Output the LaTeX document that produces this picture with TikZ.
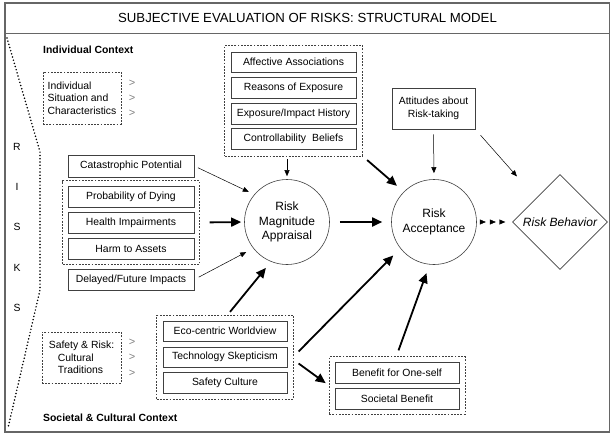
\documentclass[tikz,border=0pt]{standalone}
\usepackage{fontspec}
\setmainfont{Liberation Sans}
\usetikzlibrary{arrows.meta,shapes.geometric,fit,calc,decorations.markings}
\begin{document}
\begin{tikzpicture}[x=1pt,y=-1pt,
  every node/.style={font=\fontsize{10.4}{12.5}\selectfont, inner sep=0pt},
  bx/.style={draw=black!75, line width=0.6pt, minimum width=126pt, minimum height=21pt, inner sep=0pt},
  grp/.style={draw=black!75, line width=0.6pt, dash pattern=on 1.8pt off 1.4pt, inner sep=5.5pt},
  circ/.style={circle, draw=black!75, line width=0.6pt, minimum size=85pt, font=\fontsize{12}{14.5}\selectfont, align=center},
  bigarrow/.style={line width=1.8pt, -{Triangle[length=10pt,width=9pt]}},
  smallarrow/.style={line width=0.5pt, -{Triangle[length=6pt,width=5pt]}},
  gt/.style={text=black!50, font=\fontsize{11}{12}\selectfont},
  letter/.style={font=\fontsize{10.4}{12}\selectfont}
]
\useasboundingbox (0,0) rectangle (615,437);
% frame and title
\draw[black!60, line width=1.2pt] (5,3) rectangle (609.5,432);
\node[font=\fontsize{13.2}{15}\selectfont] (title) at (307.5,18) {SUBJECTIVE EVALUATION OF RISKS: STRUCTURAL MODEL};
\coordinate (tl) at (5,33);
\coordinate (tr) at (609.5,33);
\draw[black!60, line width=0.8pt] (tl) -- (tr);
% dotted risk boundary
\draw[line width=1.7pt, line cap=round, dash pattern=on 0pt off 3.3pt] (7,38) -- (40,152) -- (40,290) -- (8,428);
\node[letter] (lR) at (17,147) {R};
\node[letter] (lI) at (17,187) {I};
\node[letter] (lS1) at (17,227) {S};
\node[letter] (lK) at (17,268) {K};
\node[letter] (lS2) at (17,308) {S};
% context labels
\node[anchor=west, font=\bfseries\fontsize{10.4}{12}\selectfont] (ic) at (43,50) {Individual Context};
\node[anchor=west, font=\bfseries\fontsize{10.4}{12}\selectfont] (sc) at (43,418) {Societal \& Cultural Context};
% individual box
\node[grp, inner sep=0pt, minimum width=78pt, minimum height=52pt, align=left] (ind) at (82,98) {Individual\\Situation and\\Characteristics};
\node[gt] (g1) at (132,83) {>};
\node[gt] (g2) at (132,98) {>};
\node[gt] (g3) at (132,113) {>};
% safety box
\node[grp, inner sep=0pt, minimum width=79pt, minimum height=51pt, align=left] (saf) at (81.5,357.5) {Safety \& Risk:\\\hspace{9pt}Cultural\\\hspace{9pt}Traditions};
\node[gt] (g4) at (132,342) {>};
\node[gt] (g5) at (132,357) {>};
\node[gt] (g6) at (132,373) {>};
% left boxes
\node[bx, minimum height=22pt] (cat) at (131,166) {Catastrophic Potential};
\node[bx] (prob) at (131,196.5) {Probability of Dying};
\node[bx] (health) at (131,222.5) {Health Impairments};
\node[bx] (harm) at (131,248.5) {Harm to Assets};
\node[grp, fit=(prob)(health)(harm), inner sep=5pt] (pg) {};
\node[bx] (del) at (131,279.5) {Delayed/Future Impacts};
% top group
\node[bx, minimum width=125pt, minimum height=20pt] (aff) at (293.5,62) {Affective Associations};
\node[bx, minimum width=125pt] (rea) at (293.5,87.5) {Reasons of Exposure};
\node[bx, minimum width=125pt] (exh) at (293.5,113.5) {Exposure/Impact History};
\node[bx, minimum width=125pt] (con) at (293.5,138.5) {Controllability\hspace{6pt}Beliefs};
\node[grp, fit=(aff)(rea)(exh)(con), inner xsep=6pt, inner ysep=6.5pt] (tg) {};
% attitudes
\node[bx, minimum width=83pt, minimum height=41pt, align=center] (att) at (433.5,108.5) {Attitudes about\\Risk-taking};
% circles and diamond
\node[circ] (rma) at (287,222) {Risk\\Magnitude\\Appraisal};
\node[circ] (ra) at (434,222) {Risk\\Acceptance};
\node[diamond, aspect=1, draw=black!75, line width=0.6pt, minimum width=95pt, minimum height=95pt, inner sep=0pt, font=\itshape\fontsize{12}{14}\selectfont] (rb) at (560,222) {Risk Behavior};
% societal group
\node[bx, minimum width=124pt, minimum height=20pt] (eco) at (225,331) {Eco-centric Worldview};
\node[bx, minimum width=124pt, minimum height=20pt] (tech) at (225,357) {Technology Skepticism};
\node[bx, minimum width=124pt] (sfc) at (225,382.5) {Safety Culture};
\node[grp, fit=(eco)(tech)(sfc), inner xsep=6pt, inner ysep=5.5pt] (eg) {};
% benefit group
\node[bx, minimum width=124pt] (ben1) at (397,372.5) {Benefit for One-self};
\node[bx, minimum width=124pt] (ben2) at (397,398.5) {Societal Benefit};
\node[grp, fit=(ben1)(ben2), inner xsep=5.5pt, inner ysep=5pt] (bg) {};
% arrows into RMA
\draw[smallarrow, shorten <=4pt, shorten >=6pt] (cat.east) -- (rma.140);
\draw[bigarrow, shorten <=10pt, shorten >=3pt] (pg.east) -- (rma.west);
\draw[smallarrow, shorten <=5pt, shorten >=8pt] (del.east) -- (rma.218);
\draw[bigarrow, shorten >=8pt] ($(eg.north)+(5,-3)$) -- (rma.248);
\draw[smallarrow, shorten <=3pt, shorten >=3pt] (rma.north |- tg.south) -- (rma.north);
% arrows into RA
\draw[bigarrow, shorten <=10pt, shorten >=9pt] (rma.east) -- (ra.west);
\draw[bigarrow, shorten <=6pt, shorten >=9pt] (tg.south east) -- (ra.135);
\draw[smallarrow, shorten <=5pt, shorten >=6pt] (att.south) -- (ra.north);
\draw[smallarrow, shorten <=8pt, shorten >=29pt] (att.south east) -- (rb.north west);
\draw[bigarrow, shorten >=10pt] ($(eg.east)+(5,-5.5)$) -- (ra.218);
\draw[bigarrow, shorten >=4pt] ($(eg.east)+(5,6.5)$) -- (bg.west);
\draw[bigarrow, shorten >=9pt] ($(bg.north)+(1.5,-6)$) -- (ra.264);
% RA to RB: three triangles
\path[decoration={markings,
   mark=at position 9pt with {\arrow{Triangle[length=6pt,width=5pt]}},
   mark=at position 19pt with {\arrow{Triangle[length=6pt,width=5pt]}},
   mark=at position 28.5pt with {\arrow{Triangle[length=6pt,width=5pt]}}},
   postaction={decorate}] (ra.east) -- (rb.west);
\end{tikzpicture}
\end{document}
